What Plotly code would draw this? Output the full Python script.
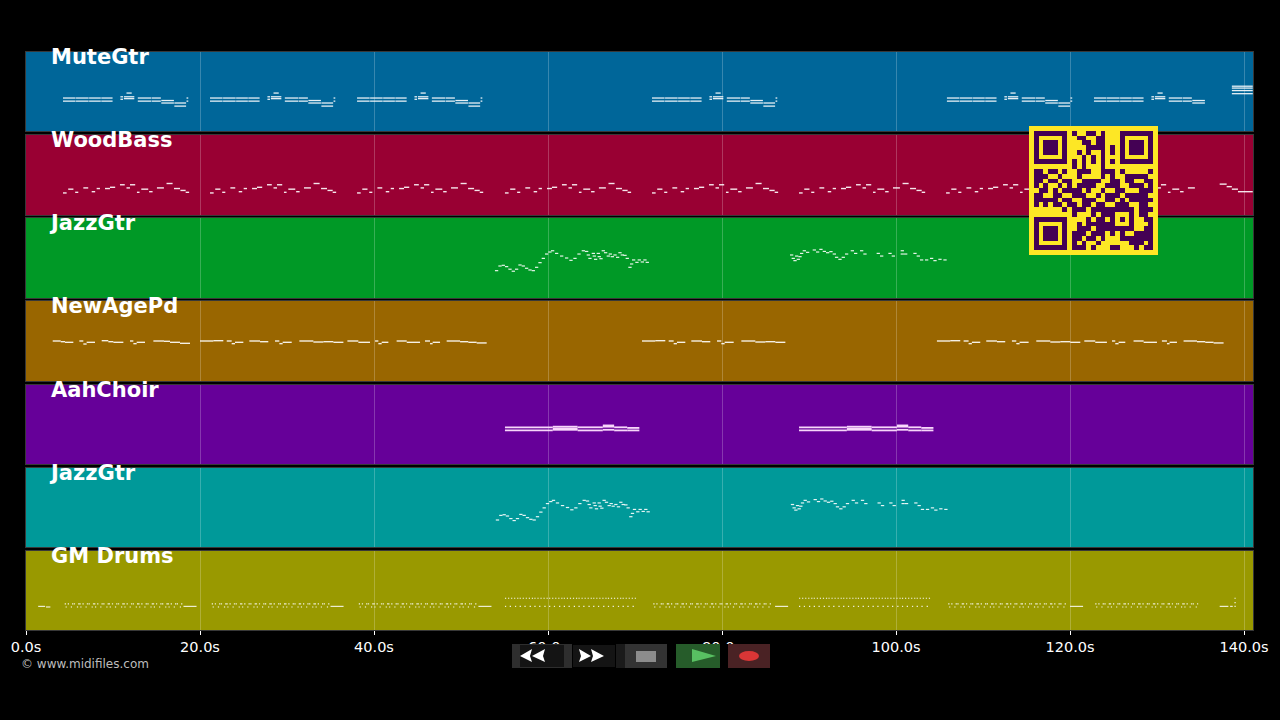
import plotly.graph_objects as go

TRACK_NAMES = ["MuteGtr", "WoodBass", "JazzGtr", "NewAgePd", "AahChoir", "JazzGtr", "GM Drums"]
TRACK_COLORS = ["#006699", "#990033", "#009926", "#996600", "#660099", "#009999", "#999900"]
TICK_VALS = [0, 20, 40, 60, 80, 100, 120, 140]
TICK_TEXT = ["0.0s", "20.0s", "40.0s", "60.0s", "80.0s", "100.0s", "120.0s", "140.0s"]

# muted guitar phrase, times relative to each entry
MUTE_START = [0, 0, 1.5, 1.5, 3, 3, 4.4, 4.4, 6.6, 6.6, 7, 7, 7.3, 8.6, 8.6, 10.2, 10.2, 11.3, 11.3, 12.8, 12.8, 14.2, 14.2]
MUTE_END = [1.45, 1.45, 2.95, 2.95, 4.35, 4.35, 5.7, 5.7, 6.9, 6.9, 8.2, 8.2, 7.9, 10.15, 10.15, 11.25, 11.25, 12.75, 12.75, 14.15, 14.15, 14.4, 14.4]
MUTE_PITCH = [53, 48, 53, 48, 53, 48, 53, 48, 55, 51, 55, 52, 61, 53, 48, 53, 48, 49, 45, 45, 40, 53, 48]
MUTE_ENTRIES = [4.25, 21.15, 38.05, 71.95, 105.85, 122.75]
MUTE_CUT = [14.5, 14.5, 14.5, 14.5, 14.5, 12.8]
MUTE_TAIL_START = [138.6, 138.6, 138.6, 138.6]
MUTE_TAIL_END = [141, 141, 141, 141]
MUTE_TAIL_PITCH = [72, 69, 65, 60]

# walking bass
BASS_START = [0, 0.6, 1.4, 2.34, 3.3, 3.87, 4.83, 5.4, 6.55, 7.3, 7.7, 8.5, 9, 9.9, 10.8, 11.9, 12.76, 13.5, 14.1]
BASS_END = [0.42, 1.2, 1.76, 2.9, 3.7, 4.25, 5.4, 6, 7.1, 7.7, 8.3, 8.8, 9.8, 10.3, 11.6, 12.6, 13.45, 14.1, 14.5]
BASS_PITCH = [35, 41, 36, 43, 37, 42, 42, 44, 48, 43, 48, 36, 41, 37, 43, 50, 42, 39, 36]
BASS_ENTRIES = [4.25, 21.15, 38.05, 55.05, 71.95, 88.85, 105.75, 122.75]
BASS_CUT = [14.6, 14.6, 14.6, 14.6, 14.6, 14.6, 14.6, 12.3]
BASS_TAIL_START = [137.2, 138.0, 138.6, 139.3]
BASS_TAIL_END = [138.0, 138.6, 139.3, 141]
BASS_TAIL_PITCH = [49, 45, 41, 37]

# solo guitar, two passages
JAZZ_START = [53.90, 54.29, 54.67, 55.05, 55.44, 55.82, 56.20, 56.59, 56.97, 57.35, 57.74, 58.12, 58.50, 58.89, 59.27, 59.65, 60.03, 60.34, 60.80, 61.38, 61.95, 62.45, 62.91, 63.37, 63.87, 64.25, 64.44, 64.63, 65.02, 65.13, 65.28, 65.59, 65.70, 65.90, 66.16, 66.43, 66.74, 66.97, 67.20, 67.51, 67.81, 68.08, 68.35, 68.66, 68.92, 69.23, 69.42, 69.65, 70.03, 70.30, 70.65, 70.95, 71.22,
              87.81, 88.0, 88.2, 88.39, 88.58, 88.77, 88.96, 89.27, 89.65, 90.42, 90.8, 91.18, 91.57, 91.95, 92.33, 92.72, 92.98, 93.37, 93.75, 94.13, 94.79, 95.17, 95.86, 96.24, 97.77, 98.16, 99.12, 99.5, 100.53, 100.53, 100.92, 101.99, 102.37, 102.75, 103.33, 103.9, 104.29, 104.86, 105.44]
JAZZ_PITCH = [43.4, 50.8, 51.9, 49.8, 45.7, 42.5, 45.7, 52.4, 50.8, 47.2, 44.5, 43.4, 48.7, 56.1, 62.9, 69.8, 73, 75, 70.8, 66.6, 63.5, 59.8, 62.9, 69.8, 75, 73.9, 68.3, 62.9, 70.8, 66.6, 61.4, 70.8, 65.6, 62.4, 75, 71.9, 66.6, 69.8, 65.6, 68.3, 64.6, 71.9, 68.3, 67.7, 62.9, 48.7, 54, 60.4, 56.6, 60.4, 57.2, 60.4, 56.6,
              68.3, 62.9, 59.3, 66.6, 61.4, 65.6, 70.8, 75, 72.5, 76.2, 73, 77.2, 74, 71.9, 73.6, 69.8, 64.6, 61.4, 64.6, 69.8, 75, 70.8, 75, 69.8, 70.8, 66.6, 70.8, 66.6, 75, 69.8, 69.8, 70.8, 66.6, 60.4, 60.4, 62.9, 59.3, 61.4, 60.4]
JAZZ_LEN = 0.38
JAZZ2_LAG = 0.1

# pad, first pass and the part that comes back later
PAD_A_START = [3.07, 3.99, 4.48, 6.13, 6.59, 6.97, 8.7, 9.46, 10.04, 11.95, 12.34, 12.72, 14.64, 15.86, 16.55, 17.7]
PAD_A_END = [3.99, 4.48, 5.44, 6.59, 6.97, 7.93, 9.46, 10.04, 11.19, 12.34, 12.72, 13.68, 15.86, 16.55, 17.7, 18.85]
PAD_A_PITCH = [63.5, 62.4, 61.4, 63.5, 58.7, 61.4, 64, 62.4, 61.4, 63.5, 59.3, 61.4, 63.5, 63, 61.4, 59.8]
PAD_B_START = [20, 21.53, 23.07, 23.64, 24.02, 25.67, 26.9, 28.62, 29.12, 29.5, 31.42, 33.03, 34.18, 35.33, 36.94, 38.2, 40.12, 40.5, 40.88, 42.6, 43.76, 45.86, 46.44, 46.74, 48.35, 49.89, 50.84, 51.8]
PAD_B_END = [21.53, 22.68, 23.64, 24.02, 24.98, 26.9, 27.85, 29.12, 29.5, 30.54, 33.03, 34.18, 35.33, 36.48, 38.2, 39.54, 40.5, 40.88, 41.65, 43.76, 45.29, 46.44, 46.74, 47.59, 49.89, 50.84, 51.8, 52.95]
PAD_B_PITCH = [63.5, 64, 63.5, 59.3, 61.4, 63.5, 62.4, 63.5, 59.3, 61.4, 63.5, 61.9, 62.4, 61.4, 63.5, 61.4, 63.5, 59.3, 61.4, 63.5, 61.4, 63.5, 59.3, 61.4, 63.5, 62.4, 61.4, 60.4]
PAD_B_ENTRIES = [0, 50.8, 84.7]
PAD_B_CUT = [60, 36.6, 60]

# choir held chords
CHOIR_START = [0, 0, 5.5, 5.5, 5.5, 8.35, 8.35, 11.25, 11.25, 11.25, 12.55, 12.55, 14.05, 14.05]
CHOIR_END = [5.5, 5.5, 8.35, 8.35, 8.35, 11.25, 11.25, 12.55, 12.55, 12.55, 14.05, 14.05, 15.45, 15.45]
CHOIR_PITCH = [59, 54, 60, 55, 57, 59, 54, 62, 60, 55, 59, 54, 58, 54]
CHOIR_ENTRIES = [55.05, 88.85]

# drum hits
HIT_LEN = 0.14
BAR_T = [0, 0.1, 0.35, 0.7, 0.85, 1.05, 1.4, 1.55]
BAR_P = [42, 37, 42, 37, 42, 42, 37, 42]
BUSY_BARS = [4.45, 6.14, 7.83, 9.52, 11.21, 12.9, 14.59, 16.28,
             21.35, 23.04, 24.73, 26.42, 28.11, 29.8, 31.49, 33.18,
             38.25, 39.94, 41.63, 43.32, 45.01, 46.7, 48.39, 50.08,
             72.1, 73.79, 75.48, 77.17, 78.86, 80.55, 82.24, 83.93,
             106, 107.69, 109.38, 111.07, 112.76, 114.45, 116.14, 117.83,
             122.9, 124.59, 126.28, 127.97, 129.66, 131.35, 133.04]
SPARSE_T = [0, 0.35, 0.7, 1.05, 1.4, 0, 0.55, 1.15]
SPARSE_P = [51, 51, 51, 51, 51, 38, 38, 38]
SPARSE_BARS = [55.05, 56.74, 58.43, 60.12, 61.81, 63.5, 65.19, 66.88, 68.57,
               88.85, 90.54, 92.23, 93.92, 95.61, 97.3, 98.99, 100.68, 102.37]
DRUM_DASH_START = [1.4, 2.3, 18.1, 35, 52, 86.1, 120, 137.2, 138.4]
DRUM_DASH_END = [2.2, 2.8, 19.6, 36.5, 53.5, 87.6, 121.5, 138.2, 138.7]
DRUM_DASH_PITCH = [38, 37, 38, 38, 38, 38, 38, 38, 38]
DRUM_EXTRA_T = [138.9, 138.9, 138.9]
DRUM_EXTRA_P = [51, 44, 38]

QR_ROWS = [
    "1111111010011010001111111",
    "1000001001100110001000001",
    "1011101000110110001011101",
    "1011101000011110101011101",
    "1011101001010010101011101",
    "1000001000101010001000001",
    "1111111010101010101111111",
    "0000000010100010000000000",
    "1101101001110011101000001",
    "1110010001000010100111110",
    "1101101100111100110110011",
    "1010010101111001110011101",
    "0110101111010010011000111",
    "1100110011100101110111110",
    "1111101100111001101011111",
    "1010110110110110011100110",
    "0000001011101111111110111",
    "0000000010001011100010110",
    "1111111000010110101010011",
    "1000001001011111100010001",
    "1011101001110111111110011",
    "1011101011101110101001111",
    "1011101011011010001111111",
    "1000001010100100000011101",
    "1111111011101000110001011",
]


def px(x):
    return x / 1280


def py(y):
    return 1 - y / 720


def notes(starts, ends, pitches, offset=0, cut=None):
    xs, ys = [], []
    for s, e, p in zip(starts, ends, pitches):
        if cut is not None and e > cut:
            continue
        xs += [s + offset, e + offset, None]
        ys += [p, p, None]
    return xs, ys


def merge(*parts):
    xs, ys = [], []
    for a, b in parts:
        xs += a
        ys += b
    return xs, ys


tracks = []
tracks.append(merge(
    *[notes(MUTE_START, MUTE_END, MUTE_PITCH, t, c) for t, c in zip(MUTE_ENTRIES, MUTE_CUT)],
    notes(MUTE_TAIL_START, MUTE_TAIL_END, MUTE_TAIL_PITCH)))
tracks.append(merge(
    *[notes(BASS_START, BASS_END, BASS_PITCH, t, c) for t, c in zip(BASS_ENTRIES, BASS_CUT)],
    notes(BASS_TAIL_START, BASS_TAIL_END, BASS_TAIL_PITCH)))
jazz_end = [s + JAZZ_LEN for s in JAZZ_START]
tracks.append(notes(JAZZ_START, jazz_end, JAZZ_PITCH))
tracks.append(merge(
    notes(PAD_A_START, PAD_A_END, PAD_A_PITCH),
    *[notes(PAD_B_START, PAD_B_END, PAD_B_PITCH, t, c) for t, c in zip(PAD_B_ENTRIES, PAD_B_CUT)]))
tracks.append(merge(*[notes(CHOIR_START, CHOIR_END, CHOIR_PITCH, t) for t in CHOIR_ENTRIES]))
tracks.append(notes(JAZZ_START, jazz_end, JAZZ_PITCH, JAZZ2_LAG))
bar_end = [t + HIT_LEN for t in BAR_T]
sparse_end = [t + HIT_LEN for t in SPARSE_T]
extra_end = [t + HIT_LEN for t in DRUM_EXTRA_T]
tracks.append(merge(
    *[notes(BAR_T, bar_end, BAR_P, t) for t in BUSY_BARS],
    *[notes(SPARSE_T, sparse_end, SPARSE_P, t) for t in SPARSE_BARS],
    notes(DRUM_DASH_START, DRUM_DASH_END, DRUM_DASH_PITCH),
    notes(DRUM_EXTRA_T, extra_end, DRUM_EXTRA_P)))

ROW_TOP = [52, 135, 218, 301, 385, 468, 551]
ROW_BOTTOM = [131, 215, 298, 381, 464, 547, 630]
LABEL_X = [49, 49, 47, 49, 49, 47, 49]
LINE_WIDTHS = [1.3, 1.4, 1.2, 1.4, 1.8, 1.2, 1.1]
LINE_COLORS = ["rgba(255,255,255,0.9)"] * 4 + ["rgba(255,225,255,0.95)"] + ["rgba(255,255,255,0.9)"] * 2

fig = go.Figure()
shapes = []
annotations = []
layout = {}
for i, name in enumerate(TRACK_NAMES):
    n = i + 1
    suffix = "" if n == 1 else str(n)
    fig.add_trace(go.Scatter(
        x=tracks[i][0], y=tracks[i][1], mode="lines", connectgaps=False,
        line=dict(color=LINE_COLORS[i], width=LINE_WIDTHS[i]),
        xaxis="x" + suffix, yaxis="y" + suffix, showlegend=False, hoverinfo="skip"))
    layout["xaxis" + suffix] = dict(
        domain=[px(26), px(1253)], range=[0, 141.03], anchor="y" + suffix, automargin=False,
        tickvals=TICK_VALS, ticktext=TICK_TEXT if n == 7 else None,
        showticklabels=n == 7, ticks="outside" if n == 7 else "", ticklen=4, tickcolor="#ffffff",
        tickfont=dict(family="DejaVu Sans", size=14.5, color="#ffffff"),
        showgrid=True, gridcolor="rgba(255,255,255,0.22)", gridwidth=1, zeroline=False,
        showline=True, mirror=True, linecolor="rgba(255,255,255,0.22)", linewidth=1)
    layout["yaxis" + suffix] = dict(
        domain=[py(ROW_BOTTOM[i]), py(ROW_TOP[i])], range=[0, 127], anchor="x" + suffix, automargin=False,
        showticklabels=False, ticks="", showgrid=False, zeroline=False,
        showline=True, mirror=True, linecolor="rgba(255,255,255,0.22)", linewidth=1)
    shapes.append(dict(
        type="rect", xref="x" + suffix + " domain", yref="y" + suffix + " domain",
        x0=0, x1=1, y0=0, y1=1, fillcolor=TRACK_COLORS[i], line_width=0, layer="below"))
    annotations.append(dict(
        text="<b>" + name + "</b>", xref="paper", yref="paper", x=px(LABEL_X[i]), y=py(ROW_TOP[i] + 5),
        xanchor="left", yanchor="middle", showarrow=False,
        font=dict(family="DejaVu Sans", size=21, color="#ffffff")))

# qr code on its own axes, one module of quiet zone round it
qr_z = [[0] * 27] + [[0] + [int(c) for c in row] + [0] for row in QR_ROWS] + [[0] * 27]
fig.add_trace(go.Heatmap(
    z=qr_z, xaxis="x8", yaxis="y8", showscale=False, hoverinfo="skip", zmin=0, zmax=1,
    colorscale=[[0, "#fde725"], [1, "#440154"]]))
layout["xaxis8"] = dict(domain=[px(1029), px(1158)], range=[-0.5, 26.5], anchor="y8", visible=False, automargin=False)
layout["yaxis8"] = dict(domain=[py(255), py(126)], range=[26.5, -0.5], anchor="x8", visible=False, automargin=False)


def box(x0, y0, x1, y1, color, kind="rect"):
    return dict(type=kind, xref="paper", yref="paper", x0=px(x0), x1=px(x1), y0=py(y1), y1=py(y0),
                fillcolor=color, line_width=0, layer="above")


def poly(points, color):
    path = "M " + " L ".join(f"{px(x):.5f},{py(y):.5f}" for x, y in points) + " Z"
    return dict(type="path", xref="paper", yref="paper", path=path, fillcolor=color, line_width=0, layer="above")


# transport buttons burnt into the video
shapes += [
    box(512, 644, 770, 668, "#000000"),
    box(512, 644, 567, 668, "#2e2e2e"),
    box(520, 645, 564, 667, "#141414"),
    box(565, 644, 572, 668, "#2e2e2e"),
    box(573, 645, 615, 667, "#141414"),
    box(616, 644, 625, 668, "#1a1a1a"),
    box(625, 644, 667, 668, "#333333"),
    box(636, 651, 656, 662, "#8c8c8c"),
    box(676, 644, 720, 668, "#265c2a"),
    poly([(692, 649), (716, 656), (692, 662)], "#58c062"),
    box(728, 644, 770, 668, "#4a2224"),
    box(739, 651, 759, 661, "#d93636", "circle"),
    poly([(520, 656), (532, 649), (530, 656), (532, 662)], "#ffffff"),
    poly([(532, 656), (545, 649), (543, 656), (545, 662)], "#ffffff"),
    poly([(579, 649), (591, 656), (579, 662), (581, 656)], "#ffffff"),
    poly([(591, 649), (604, 656), (591, 662), (593, 656)], "#ffffff"),
]
annotations.append(dict(
    text="© www.midifiles.com", xref="paper", yref="paper", x=px(19), y=py(664),
    xanchor="left", yanchor="middle", showarrow=False,
    font=dict(family="DejaVu Sans", size=12, color="#bdbdbd")))

fig.update_layout(
    width=1280, height=720, margin=dict(l=0, r=0, t=0, b=0),
    paper_bgcolor="#000000", plot_bgcolor="#000000",
    shapes=shapes, annotations=annotations, showlegend=False, **layout)

# page default margin would shift everything by 8px
fig.write_html(
    "out.html", config={"displayModeBar": False},
    post_script="document.body.style.margin='0';document.body.style.background='#000';document.documentElement.style.overflow='hidden';")
